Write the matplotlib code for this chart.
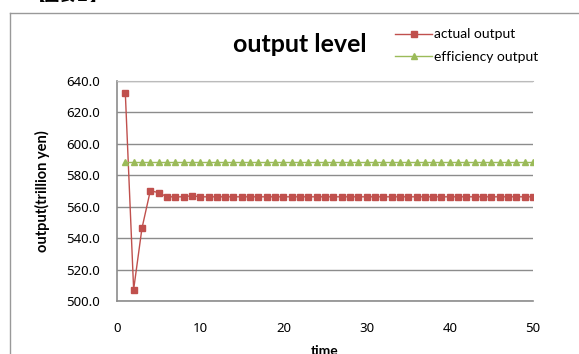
import matplotlib.pyplot as plt
from matplotlib.lines import Line2D

# data
time = list(range(1, 51))
actual_output = [632.3, 507.3, 546.3, 570.1, 569.0, 566.3, 566.3, 566.3, 567.0] + [566.3] * 41
efficiency_output = [588.5] * 50

red = "#C0504D"
green = "#9BBB59"
grid_col = "#8C8C8C"

fig = plt.figure(figsize=(5.79, 3.54), dpi=100)
ax = fig.add_axes([117 / 579, 1 - 301 / 354, (533 - 117) / 579, (301 - 81) / 354])

ax.plot(time, actual_output, color=red, lw=1.0, marker="s", ms=4.5,
        mfc=red, mec=red, label="actual output")
ax.plot(time, efficiency_output, color=green, lw=1.0, marker="^", ms=4.5,
        mfc=green, mec=green, label="efficiency output")

ax.set_xlim(0, 50)
ax.set_ylim(500, 640)
ax.set_xticks(range(0, 51, 10))
ax.set_yticks(range(500, 641, 20))
ax.set_yticklabels([f"{v:.1f}" for v in range(500, 641, 20)])
ax.tick_params(length=0, labelsize=9.5, pad=12)
ax.tick_params(axis="x", pad=15)
for lab in ax.get_xticklabels() + ax.get_yticklabels():
    lab.set_fontfamily("Noto Sans")

ax.grid(axis="y", color=grid_col, lw=1.0)
ax.set_axisbelow(True)
for s in ["left", "bottom"]:
    ax.spines[s].set_color(grid_col)
    ax.spines[s].set_linewidth(1.2)
ax.spines["top"].set_color("#BBBBBB")
ax.spines["right"].set_visible(False)

ax.set_ylabel("output(trillion yen)", fontsize=10.5, fontweight="bold",
              family="Lato", labelpad=12)
ax.set_xlabel("time", fontsize=10, fontweight="bold", family="Lato", labelpad=7)

fig.text(300 / 579, 1 - 45 / 354, "output level", fontsize=18, fontweight="bold",
         family="Lato", ha="center", va="center")

handles = [Line2D([], [], color=red, lw=1.0, marker="s", ms=4, mfc=red, mec=red),
           Line2D([], [], color=green, lw=1.0, marker="^", ms=4, mfc=green, mec=green)]
fig.legend(handles, ["actual output", "efficiency output"], loc="upper left",
           bbox_to_anchor=(383 / 579, 1 - 16 / 354), frameon=False,
           prop={"family": "Lato", "size": 10}, handlelength=2.6,
           handletextpad=0.2, labelspacing=0.75)

# outer chart frame and cut-off caption at the top
fig.add_artist(Line2D([10 / 579, 10 / 579], [0, 1 - 13 / 354], color="#999999",
                      lw=1.0, transform=fig.transFigure))
fig.add_artist(Line2D([10 / 579, 1], [1 - 13 / 354, 1 - 13 / 354], color="#999999",
                      lw=1.0, transform=fig.transFigure))
fig.text(30 / 579, 1 + 4 / 354, "【図表１】", fontsize=11, fontweight="bold",
         family=["Noto Sans CJK JP", "DejaVu Sans"], ha="left", va="center")

fig.savefig("out.png", dpi=100)
